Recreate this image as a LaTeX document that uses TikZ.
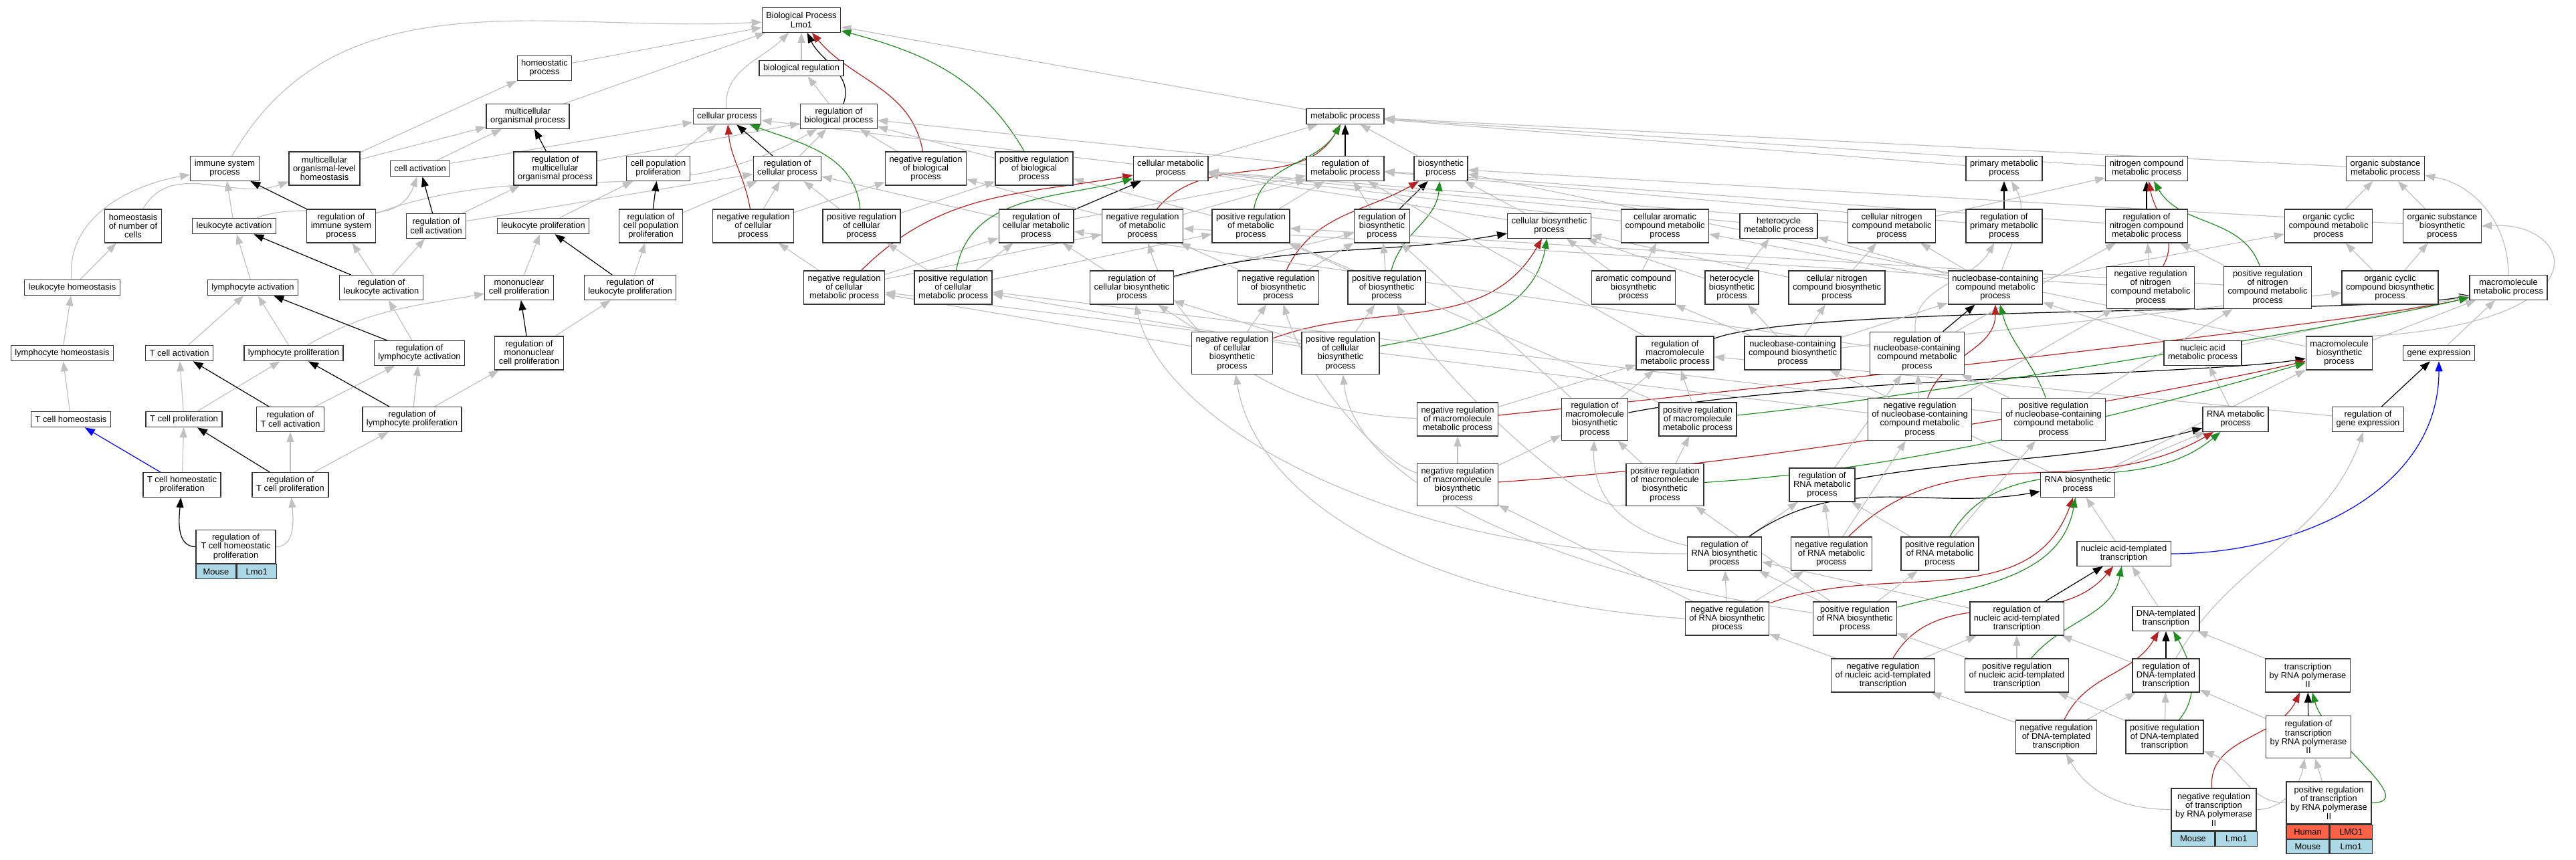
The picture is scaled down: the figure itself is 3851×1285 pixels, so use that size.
\documentclass[tikz,border=0pt]{standalone}
\usepackage{fontspec}
\setmainfont{Liberation Sans}
\usetikzlibrary{arrows.meta}
\pgfdeclarelayer{bg}
\pgfsetlayers{bg,main}
\definecolor{edgegray}{RGB}{192,192,192}
\definecolor{ered}{RGB}{178,34,34}
\definecolor{egreen}{RGB}{34,139,34}
\definecolor{eblue}{RGB}{0,0,255}
\definecolor{lblue}{RGB}{173,216,230}
\definecolor{ltomato}{RGB}{255,99,71}
\newcommand\gnode[6][]{\node[bx,minimum height={10+13.3*#5},#1] (#2) at (#3,-#4) {#6};}
\newcommand\edg[3]{\draw[#1] (#2) -- (#3);}
\begin{document}
\begin{tikzpicture}[x=1pt,y=1pt,
  bx/.style={draw=black!80, line width=1.3pt, fill=white, align=center, inner xsep=6pt, inner ysep=2pt, font=\fontsize{12.9}{13.3}\selectfont},
  cellb/.style={draw=black!80, line width=1.3pt, fill=lblue, inner sep=0pt, minimum height=22pt, anchor=north west, font=\fontsize{12.9}{13.3}\selectfont},
  cellr/.style={cellb, fill=ltomato},
  ebase/.style={line width=1.2pt, -{Triangle[length=15pt,width=11pt]}},
  eg/.style={ebase, draw=edgegray},
  ek/.style={ebase, draw=black},
  er/.style={ebase, draw=ered},
  en/.style={ebase, draw=egreen},
  eb/.style={ebase, draw=eblue}]
\useasboundingbox (0,0) rectangle (3851,-1285);
% rank 0-2
\gnode{bp}{1198}{30}{2}{Biological Process\\Lmo1}
\gnode{hp}{814}{102}{2}{homeostatic\\process}
\gnode{breg}{1198}{102}{1}{biological regulation}
\gnode{mop}{789}{174}{2}{multicellular\\organismal process}
\gnode{cp}{1087}{174}{1}{cellular process}
\gnode{rbp}{1254}{174}{2}{regulation of\\biological process}
\gnode{mp}{2011}{174}{1}{metabolic process}
% rank 3
\gnode{isp}{336}{252}{2}{immune system\\process}
\gnode{molh}{485}{252}{3}{multicellular\\organismal-level\\homeostasis}
\gnode{ca}{628}{252}{1}{cell activation}
\gnode{rmop}{830}{252}{3}{regulation of\\multicellular\\organismal process}
\gnode{cpp}{984}{252}{2}{cell population\\proliferation}
\gnode{rcp}{1177}{252}{2}{regulation of\\cellular process}
\gnode{nrbp}{1384}{252}{3}{negative regulation\\of biological\\process}
\gnode{prbp}{1546}{252}{3}{positive regulation\\of biological\\process}
\gnode{cmp}{1750}{252}{2}{cellular metabolic\\process}
\gnode{rmp}{2011}{252}{2}{regulation of\\metabolic process}
\gnode{bsp}{2154}{252}{2}{biosynthetic\\process}
\gnode{pmp}{2996}{252}{2}{primary metabolic\\process}
\gnode{ncmp}{3209}{252}{2}{nitrogen compound\\metabolic process}
\gnode{osmp}{3566}{252}{2}{organic substance\\metabolic process}
% rank 4
\gnode{hnc}{199}{338}{3}{homeostasis\\of number of\\cells}
\gnode{la}{350}{338}{1}{leukocyte activation}
\gnode{risp}{510}{338}{3}{regulation of\\immune system\\process}
\gnode{rca}{652}{338}{2}{regulation of\\cell activation}
\gnode{lp}{812}{338}{1}{leukocyte proliferation}
\gnode{rcpp}{973}{338}{3}{regulation of\\cell population\\proliferation}
\gnode{nrcp}{1126}{338}{3}{negative regulation\\of cellular\\process}
\gnode{prcp}{1288}{338}{3}{positive regulation\\of cellular\\process}
\gnode{rcmp}{1549}{338}{3}{regulation of\\cellular metabolic\\process}
\gnode{nrmp}{1708}{338}{3}{negative regulation\\of metabolic\\process}
\gnode{prmp}{1870}{338}{3}{positive regulation\\of metabolic\\process}
\gnode{rbsp}{2066}{338}{3}{regulation of\\biosynthetic\\process}
\gnode{cbsp}{2316}{338}{2}{cellular biosynthetic\\process}
\gnode{cacmp}{2489}{338}{3}{cellular aromatic\\compound metabolic\\process}
\gnode{hmp}{2659}{338}{2}{heterocycle\\metabolic process}
\gnode{cncmp}{2828}{338}{3}{cellular nitrogen\\compound metabolic\\process}
\gnode{rpmp}{2996}{338}{3}{regulation of\\primary metabolic\\process}
\gnode{rncmp}{3209}{338}{3}{regulation of\\nitrogen compound\\metabolic process}
\gnode{occmp}{3481}{338}{3}{organic cyclic\\compound metabolic\\process}
\gnode{osbp}{3651}{338}{3}{organic substance\\biosynthetic\\process}
% rank 5
\gnode{lh}{108}{430}{1}{leukocyte homeostasis}
\gnode{lya}{378}{430}{1}{lymphocyte activation}
\gnode{rla}{570}{430}{2}{regulation of\\leukocyte activation}
\gnode{mcp}{776}{430}{2}{mononuclear\\cell proliferation}
\gnode{rlp}{942}{430}{2}{regulation of\\leukocyte proliferation}
\gnode{nrcmp}{1262}{430}{3}{negative regulation\\of cellular\\metabolic process}
\gnode{prcmp}{1425}{430}{3}{positive regulation\\of cellular\\metabolic process}
\gnode{rcbsp}{1692}{430}{3}{regulation of\\cellular biosynthetic\\process}
\gnode{nrbsp}{1911}{430}{3}{negative regulation\\of biosynthetic\\process}
\gnode{prbsp}{2073}{430}{3}{positive regulation\\of biosynthetic\\process}
\gnode{acbsp}{2442}{430}{3}{aromatic compound\\biosynthetic\\process}
\gnode{hbsp}{2589}{430}{3}{heterocycle\\biosynthetic\\process}
\gnode{cncbsp}{2746}{430}{3}{cellular nitrogen\\compound biosynthetic\\process}
\gnode{nccmp}{2983}{430}{3}{nucleobase-containing\\compound metabolic\\process}
\gnode{nrncmp}{3215}{430}{4}{negative regulation\\of nitrogen\\compound metabolic\\process}
\gnode{prncmp}{3390}{430}{4}{positive regulation\\of nitrogen\\compound metabolic\\process}
\gnode{occbsp}{3573}{430}{3}{organic cyclic\\compound biosynthetic\\process}
\gnode{mmp}{3750}{430}{2}{macromolecule\\metabolic process}
% rank 6
\gnode{lyh}{93}{528}{1}{lymphocyte homeostasis}
\gnode{tca}{268}{528}{1}{T cell activation}
\gnode{lyp}{439}{528}{1}{lymphocyte proliferation}
\gnode{rlya}{627}{528}{2}{regulation of\\lymphocyte activation}
\gnode{rmcp}{791}{528}{3}{regulation of\\mononuclear\\cell proliferation}
\gnode{nrcbsp}{1842}{528}{4}{negative regulation\\of cellular\\biosynthetic\\process}
\gnode{prcbsp}{2004}{528}{4}{positive regulation\\of cellular\\biosynthetic\\process}
\gnode{rmmp}{2504}{528}{3}{regulation of\\macromolecule\\metabolic process}
\gnode{nccbsp}{2680}{528}{3}{nucleobase-containing\\compound biosynthetic\\process}
\gnode{rnccmp}{2866}{528}{4}{regulation of\\nucleobase-containing\\compound metabolic\\process}
\gnode{namp}{3293}{528}{2}{nucleic acid\\metabolic process}
\gnode{mbsp}{3497}{528}{3}{macromolecule\\biosynthetic\\process}
\gnode{ge}{3646}{528}{1}{gene expression}
% rank 7
\gnode{tch}{106}{627}{1}{T cell homeostasis}
\gnode{tcp}{275}{627}{1}{T cell proliferation}
\gnode{rtca}{434}{627}{2}{regulation of\\T cell activation}
\gnode{rlyp}{616}{627}{2}{regulation of\\lymphocyte proliferation}
\gnode{nrmmp}{2179}{627}{3}{negative regulation\\of macromolecule\\metabolic process}
\gnode{rmbsp}{2384}{627}{4}{regulation of\\macromolecule\\biosynthetic\\process}
\gnode{prmmp}{2538}{627}{3}{positive regulation\\of macromolecule\\metabolic process}
\gnode{nrnccmp}{2870}{627}{4}{negative regulation\\of nucleobase-containing\\compound metabolic\\process}
\gnode{prnccmp}{3070}{627}{4}{positive regulation\\of nucleobase-containing\\compound metabolic\\process}
\gnode{rnamp}{3342}{627}{2}{RNA metabolic\\process}
\gnode{rge}{3540}{627}{2}{regulation of\\gene expression}
% rank 8
\gnode{tchp}{272}{725}{2}{T cell homeostatic\\proliferation}
\gnode{rtcp}{434}{725}{2}{regulation of\\T cell proliferation}
\gnode{nrmbsp}{2179}{725}{4}{negative regulation\\of macromolecule\\biosynthetic\\process}
\gnode{prmbsp}{2489}{725}{4}{positive regulation\\of macromolecule\\biosynthetic\\process}
\gnode{rrnamp}{2724}{725}{3}{regulation of\\RNA metabolic\\process}
\gnode{rnabsp}{3106}{725}{2}{RNA biosynthetic\\process}
% rank 9
\gnode[minimum width=119pt]{rtchp}{352.5}{817.5}{3}{regulation of\\T cell homeostatic\\proliferation}
\node[cellb, minimum width=60pt] (rtchpm) at (rtchp.south west) {Mouse};
\node[cellb, minimum width=59pt] (rtchpl) at (rtchpm.north east) {Lmo1};
\gnode{rrnabsp}{2578}{828}{3}{regulation of\\RNA biosynthetic\\process}
\gnode{nrrnamp}{2738}{828}{3}{negative regulation\\of RNA metabolic\\process}
\gnode{prrnamp}{2900}{828}{3}{positive regulation\\of RNA metabolic\\process}
\gnode{nat}{3175}{828}{2}{nucleic acid-templated\\transcription}
% rank 10
\gnode{nrrnabsp}{2582}{925}{3}{negative regulation\\of RNA biosynthetic\\process}
\gnode{prrnabsp}{2773}{925}{3}{positive regulation\\of RNA biosynthetic\\process}
\gnode{rnat}{3015}{925}{3}{regulation of\\nucleic acid-templated\\transcription}
\gnode{dt}{3238}{925}{2}{DNA-templated\\transcription}
% rank 11
\gnode{nrnat}{2815}{1010}{3}{negative regulation\\of nucleic acid-templated\\transcription}
\gnode{prnat}{3015}{1010}{3}{positive regulation\\of nucleic acid-templated\\transcription}
\gnode{rdt}{3238}{1010}{3}{regulation of\\DNA-templated\\transcription}
\gnode{trnap}{3450}{1010}{3}{transcription\\by RNA polymerase\\II}
% rank 12
\gnode{nrdt}{3074}{1102}{3}{negative regulation\\of DNA-templated\\transcription}
\gnode{prdt}{3236}{1102}{3}{positive regulation\\of DNA-templated\\transcription}
\gnode{rtrnap}{3451}{1102}{4}{regulation of\\transcription\\by RNA polymerase\\II}
% bottom
\gnode[minimum width=127pt]{nrtrnap}{3309.5}{1210.5}{4}{negative regulation\\of transcription\\by RNA polymerase\\II}
\node[cellb, minimum width=65pt] (nrtrnapm) at (nrtrnap.south west) {Mouse};
\node[cellb, minimum width=62pt] (nrtrnapl) at (nrtrnapm.north east) {Lmo1};
\gnode[minimum width=127pt]{prtrnap}{3481.5}{1200.5}{4}{positive regulation\\of transcription\\by RNA polymerase\\II}
\node[cellr, minimum width=64pt, minimum height=21pt] (prtrnaph) at (prtrnap.south west) {Human};
\node[cellr, minimum width=63pt, minimum height=21pt] (prtrnaphl) at (prtrnaph.north east) {LMO1};
\node[cellb, minimum width=64pt, minimum height=21pt] (prtrnapm) at (prtrnaph.south west) {Mouse};
\node[cellb, minimum width=63pt, minimum height=21pt] (prtrnapml) at (prtrnapm.north east) {Lmo1};

\begin{pgfonlayer}{bg}
% to root
\edg{eg}{hp}{bp}
\edg{eg}{breg}{bp}
\edg{eg}{mop}{bp}
\draw[eg] (cp) to[out=95,in=-135] (bp);
\edg{eg}{rbp}{breg}
\draw[ek] (rbp) to[out=70,in=-65] (bp);
\edg{eg}{mp}{bp}
\draw[eg] (isp) to[out=60,in=183] (bp);
\edg{eg}{molh}{hp}
\edg{eg}{molh}{mop}
\edg{eg}{ca}{mop}
\edg{eg}{ca}{cp}
\edg{ek}{rmop}{mop}
\edg{eg}{rmop}{rbp}
\edg{eg}{cpp}{cp}
\edg{ek}{rcp}{cp}
\edg{eg}{rcp}{rbp}
\edg{eg}{nrbp}{rbp}
\draw[er] (nrbp) to[out=100,in=-50] (bp);
\edg{eg}{prbp}{rbp}
\draw[en] (prbp) to[out=120,in=-15] (bp);
\edg{eg}{cmp}{mp}
\edg{eg}{cmp}{cp}
\edg{ek}{rmp}{mp}
\edg{eg}{rmp}{rbp}
\edg{eg}{bsp}{mp}
\edg{eg}{pmp}{mp}
\edg{eg}{ncmp}{mp}
\edg{eg}{osmp}{mp}
% rank 4
\draw[eg] (hnc) to[out=60,in=200] (molh);
\edg{eg}{la}{isp}
\draw[eg] (la) to[out=20,in=-110] (ca);
\edg{ek}{risp}{isp}
\draw[eg] (risp) to[out=20,in=-150] (rbp);
\edg{ek}{rca}{ca}
\edg{eg}{rca}{rmop}
\edg{eg}{rca}{rcp}
\edg{eg}{lp}{cpp}
\edg{ek}{rcpp}{cpp}
\edg{eg}{rcpp}{rcp}
\edg{eg}{nrcp}{rcp}
\edg{eg}{nrcp}{nrbp}
\draw[er] (nrcp) to[out=100,in=-85] (cp);
\edg{eg}{prcp}{rcp}
\edg{eg}{prcp}{prbp}
\draw[en] (prcp) to[out=95,in=-20] (cp);
\edg{eg}{rcmp}{rcp}
\edg{eg}{rcmp}{rmp}
\edg{ek}{rcmp}{cmp}
\edg{eg}{nrmp}{rmp}
\edg{eg}{nrmp}{nrbp}
\draw[er] (nrmp) to[out=50,in=-120] (mp);
\edg{eg}{prmp}{rmp}
\edg{eg}{prmp}{prbp}
\draw[en] (prmp) to[out=80,in=-120] (mp);
\edg{eg}{rbsp}{rmp}
\edg{ek}{rbsp}{bsp}
\edg{eg}{cbsp}{bsp}
\edg{eg}{cbsp}{cmp}
\edg{eg}{cacmp}{cmp}
\edg{eg}{hmp}{cmp}
\edg{eg}{cncmp}{cmp}
\edg{eg}{cncmp}{ncmp}
\edg{ek}{rpmp}{pmp}
\edg{eg}{rpmp}{rmp}
\edg{ek}{rncmp}{ncmp}
\edg{eg}{rncmp}{rmp}
\edg{eg}{occmp}{osmp}
\edg{eg}{osbp}{osmp}
\edg{eg}{osbp}{bsp}
% rank 5
\edg{eg}{lh}{hnc}
\draw[eg] (lh) to[out=95,in=190] (isp);
\edg{eg}{lya}{la}
\edg{ek}{rla}{la}
\edg{eg}{rla}{risp}
\edg{eg}{rla}{rca}
\edg{eg}{mcp}{lp}
\edg{ek}{rlp}{lp}
\edg{eg}{rlp}{rcpp}
\edg{eg}{nrcmp}{rcmp}
\edg{eg}{nrcmp}{nrmp}
\edg{eg}{nrcmp}{nrcp}
\draw[er] (nrcmp) to[out=45,in=190] (cmp);
\edg{eg}{prcmp}{rcmp}
\edg{eg}{prcmp}{prmp}
\edg{eg}{prcmp}{prcp}
\draw[en] (prcmp) to[out=80,in=195] (cmp);
\edg{eg}{rcbsp}{rcmp}
\edg{eg}{rcbsp}{rbsp}
\draw[ek] (rcbsp) to[out=15,in=190] (cbsp);
\edg{eg}{nrbsp}{rbsp}
\edg{eg}{nrbsp}{nrmp}
\draw[er] (nrbsp) to[out=65,in=-150] (bsp);
\edg{eg}{prbsp}{rbsp}
\edg{eg}{prbsp}{prmp}
\draw[en] (prbsp) to[out=75,in=-95] (bsp);
\edg{eg}{acbsp}{cacmp}
\edg{eg}{acbsp}{cbsp}
\edg{eg}{hbsp}{hmp}
\edg{eg}{hbsp}{cbsp}
\edg{eg}{cncbsp}{cncmp}
\edg{eg}{cncbsp}{cbsp}
\edg{eg}{nccmp}{cacmp}
\edg{eg}{nccmp}{hmp}
\edg{eg}{nccmp}{cncmp}
\edg{eg}{nccmp}{occmp}
\draw[eg] (nccmp) to[out=70,in=-60] (pmp);
\edg{eg}{nrncmp}{rncmp}
\edg{eg}{nrncmp}{nrmp}
\draw[er] (nrncmp) to[out=60,in=-80] (ncmp);
\edg{eg}{prncmp}{rncmp}
\edg{eg}{prncmp}{prmp}
\draw[en] (prncmp) to[out=110,in=-60] (ncmp);
\edg{eg}{occbsp}{occmp}
\edg{eg}{occbsp}{osbp}
\draw[eg] (mmp) to[out=90,in=-10] (osmp);
% rank 6
\edg{eg}{lyh}{lh}
\edg{eg}{tca}{lya}
\edg{eg}{lyp}{lya}
\draw[eg] (lyp) to[out=30,in=190] (mcp);
\edg{ek}{rlya}{lya}
\edg{eg}{rlya}{rla}
\edg{ek}{rmcp}{mcp}
\edg{eg}{rmcp}{rlp}
\edg{eg}{nrcbsp}{rcbsp}
\edg{eg}{nrcbsp}{nrbsp}
\edg{eg}{nrcbsp}{nrcmp}
\draw[er] (nrcbsp) to[out=20,in=-120] (cbsp);
\edg{eg}{prcbsp}{rcbsp}
\edg{eg}{prcbsp}{prbsp}
\edg{eg}{prcbsp}{prcmp}
\draw[en] (prcbsp) to[out=10,in=-100] (cbsp);
\edg{eg}{rmmp}{rmp}
\draw[ek] (rmmp) .. controls (2700,-455) and (3550,-470) .. (mmp);
\edg{eg}{nccbsp}{acbsp}
\edg{eg}{nccbsp}{hbsp}
\edg{eg}{nccbsp}{cncbsp}
\edg{eg}{nccbsp}{nccmp}
\edg{eg}{nccbsp}{occbsp}
\edg{ek}{rnccmp}{nccmp}
\draw[eg] (rnccmp) to[out=95,in=-120] (rpmp);
\edg{eg}{rnccmp}{rncmp}
\edg{eg}{rnccmp}{rcmp}
\edg{eg}{namp}{nccmp}
\edg{eg}{namp}{mmp}
\edg{eg}{mbsp}{mmp}
\draw[eg] (mbsp.north east) .. controls (3900,-480) and (3850,-330) .. (osbp.east);
\edg{eg}{mbsp}{bsp}
\edg{eg}{ge}{mmp}
% rank 7
\edg{eg}{tch}{lyh}
\edg{eg}{tcp}{tca}
\edg{eg}{tcp}{lyp}
\edg{ek}{rtca}{tca}
\edg{eg}{rtca}{rlya}
\edg{ek}{rlyp}{lyp}
\edg{eg}{rlyp}{rlya}
\edg{eg}{rlyp}{rmcp}
\edg{eg}{nrmmp}{rmmp}
\draw[eg] (nrmmp) .. controls (1900,-620) and (1760,-500) .. (nrmp);
\draw[er] (nrmmp) .. controls (2600,-585) and (3550,-480) .. (mmp);
\edg{eg}{rmbsp}{rmmp}
\edg{eg}{rmbsp}{rbsp}
\draw[ek] (rmbsp) .. controls (2700,-565) and (3300,-560) .. (mbsp);
\edg{eg}{prmmp}{rmmp}
\edg{eg}{prmmp}{prmp}
\draw[en] (prmmp) .. controls (2900,-590) and (3550,-480) .. (mmp);
\edg{eg}{nrnccmp}{rnccmp}
\edg{eg}{nrnccmp}{nrncmp}
\edg{eg}{nrnccmp}{nrcmp}
\draw[er] (nrnccmp) to[out=70,in=-90] (nccmp);
\edg{eg}{prnccmp}{rnccmp}
\edg{eg}{prnccmp}{prncmp}
\edg{eg}{prnccmp}{prcmp}
\draw[en] (prnccmp) to[out=110,in=-75] (nccmp);
\edg{eg}{rnamp}{namp}
\edg{ek}{rge}{ge}
\edg{eg}{rge}{rmmp}
% rank 8
\edg{eb}{tchp}{tch}
\edg{eg}{tchp}{tcp}
\edg{ek}{rtcp}{tcp}
\edg{eg}{rtcp}{rtca}
\edg{eg}{rtcp}{rlyp}
\edg{eg}{nrmbsp}{rmbsp}
\edg{eg}{nrmbsp}{nrmmp}
\draw[eg] (nrmbsp) .. controls (2060,-690) and (1950,-560) .. (nrbsp);
\draw[er] (nrmbsp) .. controls (2700,-690) and (3300,-575) .. (mbsp);
\edg{eg}{prmbsp}{rmbsp}
\edg{eg}{prmbsp}{prmmp}
\draw[eg] (prmbsp) .. controls (2380,-780) and (2150,-560) .. (prbsp);
\draw[en] (prmbsp) .. controls (2900,-700) and (3300,-585) .. (mbsp);
\edg{eg}{rrnamp}{rnccmp}
\draw[ek] (rrnamp) to[out=10,in=195] (rnamp);
\edg{eg}{rnabsp}{rnamp}
\edg{eg}{rnabsp}{nccbsp}
\edg{eg}{rnabsp}{mbsp}
% rank 9
\draw[ek] (rtchp.west) to[out=180,in=-95] (tchp);
\draw[eg] (rtchp.east) to[out=0,in=-85] (rtcp);
\edg{eg}{rrnabsp}{rrnamp}
\draw[ek] (rrnabsp) to[out=35,in=190] (rnabsp);
\draw[eg] (rrnabsp) .. controls (2450,-800) and (2380,-760) .. (rmbsp);
\draw[eg] (rrnabsp.west) .. controls (2100,-830) and (1740,-640) .. (rcbsp);
\edg{eg}{nrrnamp}{rrnamp}
\edg{eg}{nrrnamp}{nrnccmp}
\draw[er] (nrrnamp) to[out=45,in=-150] (rnamp);
\edg{eg}{prrnamp}{rrnamp}
\edg{eg}{prrnamp}{prnccmp}
\draw[en] (prrnamp) to[out=60,in=-140] (rnamp);
\edg{eg}{nat}{rnabsp}
\draw[eb] (nat) to[out=0,in=-90] (ge);
% rank 10
\edg{eg}{nrrnabsp}{rrnabsp}
\edg{eg}{nrrnabsp}{nrrnamp}
\edg{eg}{nrrnabsp}{nrmbsp}
\draw[eg] (nrrnabsp.west) .. controls (2150,-900) and (1880,-760) .. (nrcbsp);
\draw[er] (nrrnabsp) to[out=20,in=-110] (rnabsp);
\edg{eg}{prrnabsp}{rrnabsp}
\edg{eg}{prrnabsp}{prrnamp}
\edg{eg}{prrnabsp}{prmbsp}
\draw[eg] (prrnabsp) .. controls (2450,-880) and (2030,-760) .. (prcbsp);
\draw[en] (prrnabsp) to[out=15,in=-100] (rnabsp);
\edg{eg}{rnat}{rrnabsp}
\edg{ek}{rnat}{nat}
\edg{eg}{dt}{nat}
% rank 11
\edg{eg}{nrnat}{rnat}
\edg{eg}{nrnat}{nrrnabsp}
\draw[er] (nrnat) to[out=60,in=-130] (nat);
\edg{eg}{prnat}{rnat}
\edg{eg}{prnat}{prrnabsp}
\draw[en] (prnat) to[out=50,in=-100] (nat);
\edg{eg}{rdt}{rnat}
\edg{ek}{rdt}{dt}
\draw[eg] (rdt) to[out=60,in=-110] (rge);
\edg{eg}{trnap}{dt}
% rank 12
\edg{eg}{nrdt}{rdt}
\edg{eg}{nrdt}{nrnat}
\draw[er] (nrdt) to[out=65,in=-120] (dt);
\edg{eg}{prdt}{rdt}
\edg{eg}{prdt}{prnat}
\draw[en] (prdt) to[out=50,in=-60] (dt);
\edg{eg}{rtrnap}{rdt}
\edg{ek}{rtrnap}{trnap}
% bottom
\draw[eg] (nrtrnap.west) to[out=180,in=-60] (nrdt);
\draw[eg] (nrtrnap.east) to[out=0,in=-100] (rtrnap);
\draw[er] (nrtrnap) to[out=95,in=-115] (trnap);
\draw[eg] (prtrnap.west) to[out=180,in=-20] (prdt);
\edg{eg}{prtrnap}{rtrnap}
\draw[en] (prtrnap.east) to[out=0,in=-75] (trnap);
\end{pgfonlayer}
\end{tikzpicture}
\end{document}
